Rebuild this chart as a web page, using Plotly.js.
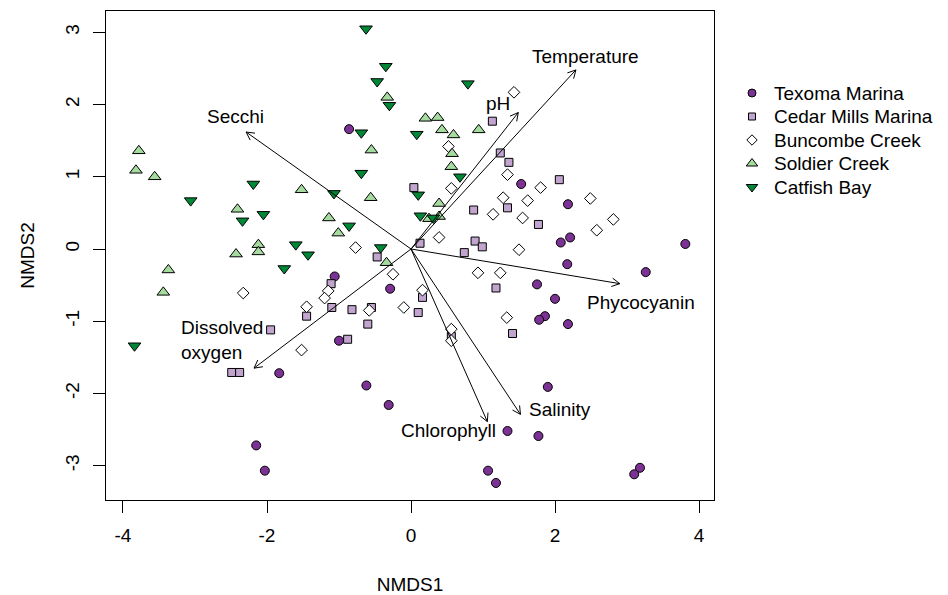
<!DOCTYPE html>
<html>
<head>
<meta charset="utf-8">
<script src="https://cdn.plot.ly/plotly-3.0.1.min.js"></script>
<style>html,body{margin:0;padding:0;background:#fff;}#chart{width:948px;height:595px;}</style>
</head>
<body>
<div id="chart"></div>
<script>
// ---- Data ----
const siteNames = ["Texoma Marina", "Cedar Mills Marina", "Buncombe Creek", "Soldier Creek", "Catfish Bay"];

const texomaX = [-0.86, 1.53, 2.18, 2.21, 2.08, 3.81, 2.17, 3.26, 1.75, 2.00, 1.86, 1.78, 2.18, -1.06, -0.29, -1.00, -1.83, -0.62, -0.31, 1.90, 1.34, 1.77, -2.15, -2.03, 1.07, 1.18, 3.18, 3.10];
const texomaY = [1.66, 0.90, 0.62, 0.16, 0.09, 0.07, -0.21, -0.32, -0.49, -0.69, -0.93, -0.98, -1.04, -0.38, -0.55, -1.27, -1.72, -1.89, -2.16, -1.91, -2.52, -2.59, -2.72, -3.07, -3.07, -3.24, -3.03, -3.12];

const cedarX = [1.13, 1.24, 1.36, 2.06, 0.04, 0.87, 1.34, 1.77, 0.89, 0.99, 0.74, 0.125, -0.47, 0.16, 0.10, 0.56, 1.18, 1.41, -1.11, -1.45, -1.10, -0.82, -0.55, -0.60, -1.95, -0.88, -2.49, -2.38];
const cedarY = [1.77, 1.33, 1.20, 0.96, 0.85, 0.54, 0.57, 0.34, 0.11, 0.03, -0.05, 0.08, -0.11, -0.67, -0.88, -1.21, -0.54, -1.17, -0.48, -0.93, -0.81, -0.84, -0.81, -1.04, -1.12, -1.25, -1.71, -1.71];

const buncombeX = [1.43, 0.52, 0.56, 1.34, 1.80, 1.28, 1.62, 2.49, 1.14, 1.55, 2.81, 2.58, 0.39, 1.50, 0.93, 1.24, 1.33, 0.16, -0.10, 0.56, 0.56, -0.77, -0.25, -1.15, -1.20, -1.45, -0.58, -1.52, -2.33];
const buncombeY = [2.17, 1.42, 0.84, 1.03, 0.85, 0.71, 0.67, 0.70, 0.48, 0.43, 0.41, 0.26, 0.16, -0.01, -0.33, -0.33, -0.95, -0.57, -0.81, -1.11, -1.27, 0.02, -0.35, -0.58, -0.68, -0.80, -0.85, -1.40, -0.61];

const soldierX = [-0.33, -0.55, 0.20, 0.37, 0.43, 0.59, 0.94, 0.57, 0.56, -3.78, -3.82, -3.56, -1.52, -0.56, -2.41, -1.14, -1.01, 0.39, 0.25, 0.39, -2.12, -2.12, -2.43, -0.34, -3.37, -3.44];
const soldierY = [2.10, 1.37, 1.81, 1.82, 1.65, 1.58, 1.65, 1.32, 1.14, 1.36, 1.09, 1.00, 0.82, 0.71, 0.55, 0.43, 0.22, 0.63, 0.42, 0.45, 0.06, -0.04, -0.07, -0.19, -0.29, -0.60];

const catfishX = [-0.625, -0.35, -0.47, -0.30, -0.69, 0.79, 0.08, 0.68, -0.69, -3.06, -2.19, -1.07, -2.34, -2.05, -0.86, 0.10, 0.13, 0.31, -0.42, -1.60, -1.43, -1.76, -3.84];
const catfishY = [3.05, 2.53, 2.32, 1.99, 1.61, 2.29, 1.59, 1.00, 1.05, 0.67, 0.90, 0.77, 0.39, 0.48, 0.32, 0.75, 0.46, 0.43, 0.02, 0.06, -0.08, -0.27, -1.34];

// environmental vectors (arrow tips)
const envNames = ["Temperature", "pH", "Secchi", "Dissolved<br>oxygen", "Phycocyanin", "Salinity", "Chlorophyll"];
const envX = [2.29, 1.49, -2.29, -2.18, 2.90, 1.52, 1.06];
const envY = [2.48, 1.89, 1.62, -1.65, -0.48, -2.29, -2.39];
// vector label positions
const envLabelX = [2.42, 1.21, -2.44, -3.22, 3.19, 2.07, 0.52];
const envLabelY = [2.66, 2.02, 1.84, -1.26, -0.74, -2.22, -2.52];

const xTicks = [-4, -2, 0, 2, 4];
const yTicks = [-3, -2, -1, 0, 1, 2, 3];

// ---- Styling ----
const FONT = "Liberation Sans, Arial, Helvetica, sans-serif";
const FS = 19;
const W = 948, H = 595;
const margin = {l: 106, r: 0, t: 11, b: 95};
const plotRightPx = 714;                      // right edge of the NMDS panel
const areaW = W - margin.l - margin.r;
const areaH = H - margin.t - margin.b;
const mainDomX = [0, (plotRightPx - margin.l) / areaW];
const xRange = [-4.236, 4.208];
const yRange = [-3.476, 3.296];

// legend panel geometry (hidden axes, 1 unit = 1 px horizontally, 1 unit = one row vertically)
const legLeftPx = 752, legTopPx = 93, legRowPx = 23.5;
const legDomX = [(legLeftPx - margin.l) / areaW, 1];
const legWpx = W - legLeftPx;
const legTopVal = -(legTopPx - margin.t) / legRowPx;
const legRange = [legTopVal + areaH / legRowPx, legTopVal];

const styles = [
  {symbol: "circle", size: 9, lsize: 8, color: "#7b3294"},
  {symbol: "square", size: 8, lsize: 7, color: "#c2a5cf"},
  {symbol: "diamond", size: 9, lsize: 8, color: "#ffffff"},
  {symbol: "triangle-up", size: 11, lsize: 10, color: "#a6dba0"},
  {symbol: "triangle-down", size: 11, lsize: 10, color: "#008837"}
];
const xs = [texomaX, cedarX, buncombeX, soldierX, catfishX];
const ys = [texomaY, cedarY, buncombeY, soldierY, catfishY];

const traces = [];
for (let i = 0; i < siteNames.length; i++) {
  traces.push({
    type: "scatter", mode: "markers", name: siteNames[i],
    x: xs[i], y: ys[i], xaxis: "x", yaxis: "y",
    marker: {symbol: styles[i].symbol, size: styles[i].size, color: styles[i].color,
             line: {color: "#000000", width: 1}},
    hoverinfo: "skip", showlegend: false
  });
}

// arrows: shaft plus open V head, computed in pixel space
const sx = (plotRightPx - margin.l) / (xRange[1] - xRange[0]);
const sy = areaH / (yRange[1] - yRange[0]);
const headLen = 9, headAng = 28 * Math.PI / 180;
const ax = [], ay = [];
for (let i = 0; i < envX.length; i++) {
  const tx = envX[i], ty = envY[i];
  ax.push(0, tx, null); ay.push(0, ty, null);
  const px = tx * sx, py = ty * sy;
  const n = Math.hypot(px, py);
  const ux = px / n, uy = py / n;
  for (const s of [1, -1]) {
    const c = Math.cos(s * headAng), sn = Math.sin(s * headAng);
    const rx = ux * c - uy * sn, ry = ux * sn + uy * c;
    ax.push(tx - headLen * rx / sx, tx, null);
    ay.push(ty - headLen * ry / sy, ty, null);
  }
}
traces.push({type: "scatter", mode: "lines", x: ax, y: ay, xaxis: "x", yaxis: "y",
  showlegend: false, line: {color: "#000000", width: 1}, hoverinfo: "skip"});

// legend (one row per site, on hidden axes)
const legIdx = siteNames.map((_, i) => i);
for (let i = 0; i < siteNames.length; i++) {
  traces.push({
    type: "scatter", mode: "markers", x: [0], y: [legIdx[i]], xaxis: "x2", yaxis: "y2",
    marker: {symbol: styles[i].symbol, size: styles[i].lsize, color: styles[i].color,
             line: {color: "#000000", width: 1}},
    showlegend: false, hoverinfo: "skip", cliponaxis: false
  });
}

const annotations = envNames.map((t, i) => ({
  x: envLabelX[i], y: envLabelY[i], xref: "x", yref: "y",
  text: t, showarrow: false,
  xanchor: t.indexOf("<br>") >= 0 ? "left" : "center",
  yanchor: "middle", align: "left",
  font: {family: FONT, size: FS, color: "#000000"}
}));
siteNames.forEach((name, i) => annotations.push({
  x: 20, y: legIdx[i], xref: "x2", yref: "y2", text: name, showarrow: false,
  xanchor: "left", yanchor: "middle", align: "left",
  font: {family: FONT, size: FS, color: "#000000"}
}));

const layout = {
  width: W, height: H,
  margin: margin,
  paper_bgcolor: "#ffffff", plot_bgcolor: "rgba(0,0,0,0)",
  font: {family: FONT, size: FS, color: "#000000"},
  hovermode: false,
  showlegend: false,
  xaxis: {
    domain: mainDomX, anchor: "y",
    range: xRange, tickmode: "array", tickvals: xTicks, ticktext: xTicks.map(String),
    showgrid: false, zeroline: false,
    showline: true, mirror: true, linecolor: "#000000", linewidth: 1,
    ticks: "outside", ticklen: 12, tickcolor: "#000000", tickwidth: 1,
    ticklabelstandoff: 6,
    tickfont: {family: FONT, size: FS, color: "#000000"},
    title: {text: "NMDS1", font: {family: FONT, size: FS, color: "#000000"}, standoff: 32}
  },
  yaxis: {
    anchor: "x",
    range: yRange, tickmode: "array", tickvals: yTicks, ticktext: yTicks.map(String),
    showgrid: false, zeroline: false,
    showline: true, mirror: true, linecolor: "#000000", linewidth: 1,
    ticks: "outside", ticklen: 12, tickcolor: "#000000", tickwidth: 1,
    tickangle: -90, ticklabelstandoff: 6,
    tickfont: {family: FONT, size: FS, color: "#000000"},
    title: {text: "NMDS2", font: {family: FONT, size: FS, color: "#000000"}, standoff: 22}
  },
  xaxis2: {domain: legDomX, anchor: "y2", range: [0, legWpx], visible: false, fixedrange: true},
  yaxis2: {domain: [0, 1], anchor: "x2", range: legRange, visible: false, fixedrange: true},
  annotations: annotations
};

Plotly.newPlot("chart", traces, layout, {displayModeBar: false, staticPlot: true});
</script>
</body>
</html>
